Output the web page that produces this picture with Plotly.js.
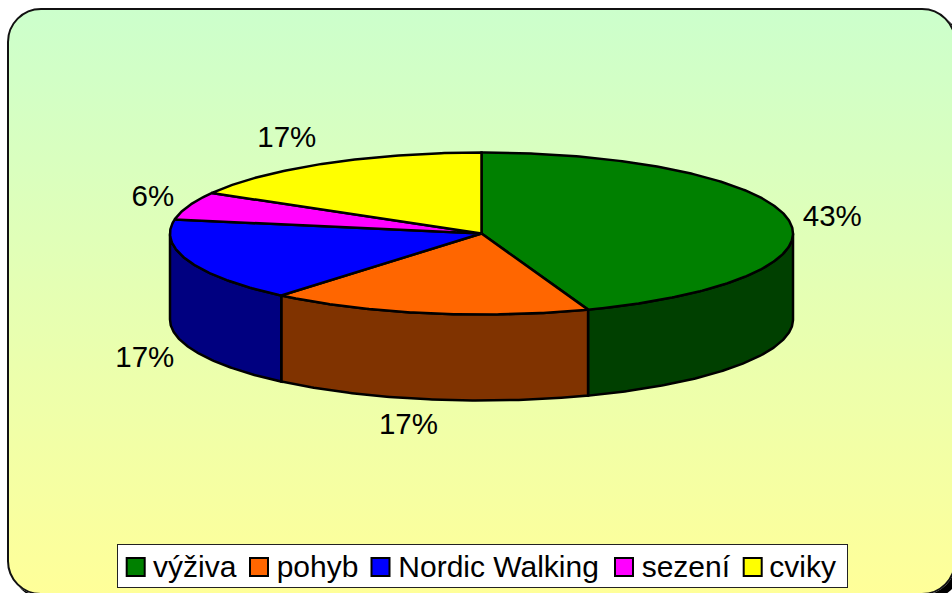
<!DOCTYPE html>
<html>
<head>
<meta charset="utf-8">
<script src="https://cdn.plot.ly/plotly-3.0.1.min.js"></script>
<style>
html,body{margin:0;padding:0;width:952px;height:593px;overflow:hidden;background:#fff}
#card{position:absolute;left:7px;top:8px;width:949px;height:587px;box-sizing:border-box;border:2px solid #111;border-radius:34px;
background:linear-gradient(180deg,#CCFFCC 0%,#FFFF99 100%);box-shadow:5px 5px 0 #000}
#chart{position:absolute;left:0;top:0;width:952px;height:593px}
</style>
</head>
<body>
<div id="card"></div>
<div id="chart"></div>
<script>
// Data
const categories = ['výživa', 'pohyb', 'Nordic Walking', 'sezení', 'cviky'];
const values = [8, 3, 3, 1, 3];
const percentLabels = ['43%', '17%', '17%', '6%', '17%'];

// Style
const topColors = ['#008000', '#FF6600', '#0000FF', '#FF00FF', '#FFFF00'];
const sideColors = ['#004000', '#803300', '#000080', '#800080', '#808000'];
const fontFamily = '"Liberation Sans", Arial, sans-serif';

// Layout of the projected pie, in axis units
const cx = 481.5, cy = 233.5, rx = 311.5, ry = 81, depth = 86;
const labelNudgeX = [44, -19, -44, -36, -39];
const labelNudgeY = [-1, 113, 98, -7, -24];

// Legend layout, in pixels
const legendLeft = 117, legendTop = 544, legendWidth = 730, legendHeight = 43;
const swatchCenters = [135.7, 259, 380.5, 624, 752.7];
const textStarts = [153, 276.7, 398.3, 641.7, 769.3];
const swatchCenterY = 567, textBaselineY = 576.5, swatchHalf = 9;

const total = values.reduce((a, b) => a + b, 0);
const ex = t => cx + rx * Math.sin(t);
const ey = t => cy - ry * Math.cos(t);
function arc(t0, t1) {
  const n = Math.max(2, Math.ceil(Math.abs(t1 - t0) / 0.01));
  const ts = [];
  for (let i = 0; i <= n; i++) ts.push(t0 + (t1 - t0) * i / n);
  return ts;
}

const traces = [];
const common = {type: 'scatter', mode: 'lines', fill: 'toself', showlegend: false, hoverinfo: 'skip'};
const edge = {color: '#000', width: 2.5};
let acc = 0;
const slices = values.map(v => {
  const a = acc / total * 2 * Math.PI;
  acc += v;
  return [a, acc / total * 2 * Math.PI];
});

// Visible outer wall (front half of the ellipse)
slices.forEach((s, i) => {
  const lo = Math.max(s[0], Math.PI / 2), hi = Math.min(s[1], 3 * Math.PI / 2);
  if (hi <= lo) return;
  const ts = arc(lo, hi);
  const x = ts.map(ex).concat(ts.slice().reverse().map(ex));
  const y = ts.map(ey).concat(ts.slice().reverse().map(t => ey(t) + depth));
  x.push(x[0]); y.push(y[0]);
  traces.push(Object.assign({}, common, {x, y, fillcolor: sideColors[i], line: edge}));
});

// Top face
slices.forEach((s, i) => {
  const ts = arc(s[0], s[1]);
  const x = [cx].concat(ts.map(ex), [cx]);
  const y = [cy].concat(ts.map(ey), [cy]);
  traces.push(Object.assign({}, common, {x, y, fillcolor: topColors[i], line: edge}));
});

// Percent labels
traces.push({
  type: 'scatter', mode: 'text', showlegend: false, hoverinfo: 'skip',
  x: slices.map((s, i) => ex((s[0] + s[1]) / 2) + labelNudgeX[i]),
  y: slices.map((s, i) => ey((s[0] + s[1]) / 2) + labelNudgeY[i]),
  text: percentLabels, textposition: 'middle center',
  textfont: {family: fontFamily, size: 29.5, color: '#000'}
});

// Legend entries
categories.forEach((c, i) => {
  traces.push({
    type: 'scatter', mode: 'markers', name: c, x: [null], y: [null],
    marker: {symbol: 'square', size: 16, color: topColors[i], line: {color: '#000', width: 2}}
  });
});

const layout = {
  width: 952, height: 593,
  margin: {l: 0, r: 0, t: 0, b: 0, pad: 0, autoexpand: false},
  paper_bgcolor: 'rgba(0,0,0,0)', plot_bgcolor: 'rgba(0,0,0,0)',
  xaxis: {range: [0, 952], visible: false, fixedrange: true},
  yaxis: {range: [593, 0], visible: false, fixedrange: true},
  showlegend: true,
  legend: {
    orientation: 'h', x: legendLeft / 952, xanchor: 'left', y: 1 - legendTop / 593, yanchor: 'top',
    bgcolor: '#FFFFFF', bordercolor: '#222', borderwidth: 1,
    font: {family: fontFamily, size: 30, color: '#000'},
    itemclick: false, itemdoubleclick: false
  }
};

Plotly.newPlot('chart', traces, layout, {displayModeBar: false, staticPlot: true}).then(gd => {
  // Fine placement of the legend entries: Plotly caps the swatch size and fixes the item gaps.
  const legend = gd.querySelector('.legend');
  legend.setAttribute('transform', `translate(${legendLeft},${legendTop})`);
  const bg = legend.querySelector('rect.bg');
  bg.setAttribute('width', legendWidth);
  bg.setAttribute('height', legendHeight);
  legend.querySelectorAll('clipPath rect').forEach(r => {
    r.setAttribute('width', legendWidth);
    r.setAttribute('height', legendHeight);
  });
  const h = swatchHalf;
  const items = legend.querySelectorAll('.traces');
  const gRect = gd.getBoundingClientRect();
  items.forEach((item, i) => {
    const sym = item.querySelector('path.scatterpts');
    const txt = item.querySelector('text.legendtext');
    sym.setAttribute('d', `M${h},${h}H${-h}V${-h}H${h}Z`);
    sym.style.strokeWidth = '2px';
    const sr = sym.getBoundingClientRect();
    const m = /translate\(([-\d.]+)[ ,]+([-\d.]+)\)/.exec(item.getAttribute('transform'));
    const nx = +m[1] + swatchCenters[i] - (sr.left + sr.right) / 2 + gRect.left;
    const ny = +m[2] + swatchCenterY - (sr.top + sr.bottom) / 2 + gRect.top;
    item.setAttribute('transform', `translate(${nx},${ny})`);
    txt.setAttribute('y', textBaselineY - swatchCenterY);
    const tr = txt.getBoundingClientRect();
    txt.setAttribute('x', +txt.getAttribute('x') + textStarts[i] - tr.left + gRect.left);
  });
});
</script>
</body>
</html>
